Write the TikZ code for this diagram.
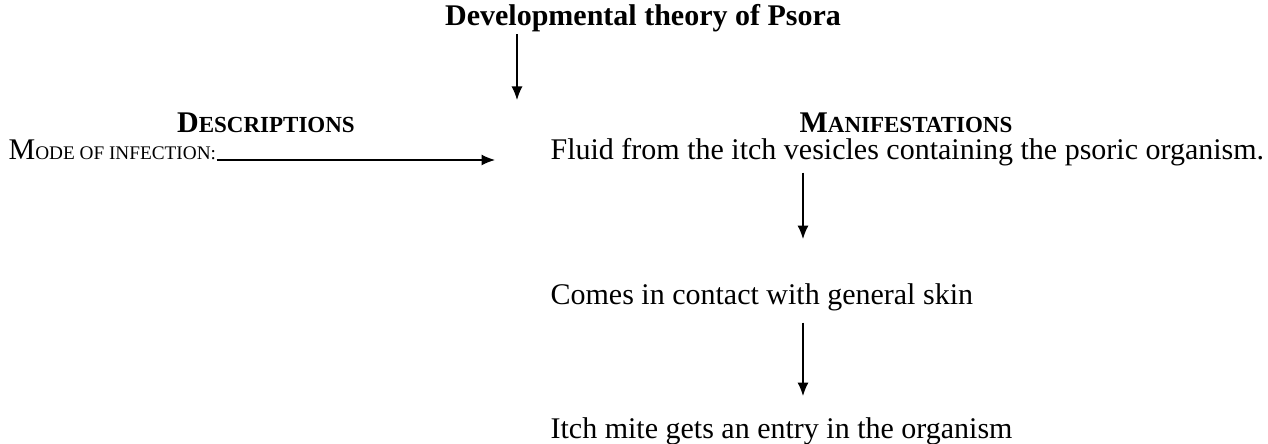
\documentclass[tikz,border=0pt]{standalone}
\usepackage{fontspec}
\setmainfont{Liberation Serif}
\usepackage{tikz}
\usetikzlibrary{arrows.meta}

% fake small caps: first letter full size, the rest smaller capitals
\newcommand{\hdsc}[2]{#1{\fontsize{9.2}{10}\selectfont #2}}
\newcommand{\txsc}[2]{#1{\fontsize{7.7}{10}\selectfont #2}}

\begin{document}
\begin{tikzpicture}[x=0.4pt,y=-0.4pt,>={Latex[length=5.4pt,width=4.4pt]},line width=0.5pt,
  main node/.style={inner sep=2pt,font=\fontsize{12}{14}\selectfont},
  head node/.style={main node,font=\fontsize{12}{14}\selectfont\bfseries,anchor=base},
  step node/.style={main node,anchor=base west}]
  \useasboundingbox (0,0) rectangle (1268,444);

  \node[head node] (title) at (643,26) {Developmental theory of Psora};
  \node[head node] (desc) at (266,133) {\hdsc{D}{ESCRIPTIONS}};
  \node[head node] (manif) at (906,133) {\hdsc{M}{ANIFESTATIONS}};

  \node[step node,inner xsep=0pt] (mode) at (8,160) {\txsc{M}{ODE OF INFECTION:}};
  \node[step node] (fluid) at (545,160) {Fluid from the itch vesicles containing the psoric organism.};
  \node[step node] (comes) at (545,305) {Comes in contact with general skin};
  \node[step node] (itch) at (545,439) {Itch mite gets an entry in the organism};

  \coordinate (split) at (517,100);
  \coordinate (entry) at (495,160);
  \coordinate (col) at (803,0);

  \path[->]
    (title.south -| split) edge [shorten <=-1.5pt] (split)
    (mode.base east) edge (entry)
    (fluid.south -| col) edge [shorten <=0.2pt,shorten >=15.8pt] (comes.north -| col)
    (comes.south -| col) edge [shorten <=2.2pt,shorten >=6.6pt] (itch.north -| col);
\end{tikzpicture}
\end{document}
